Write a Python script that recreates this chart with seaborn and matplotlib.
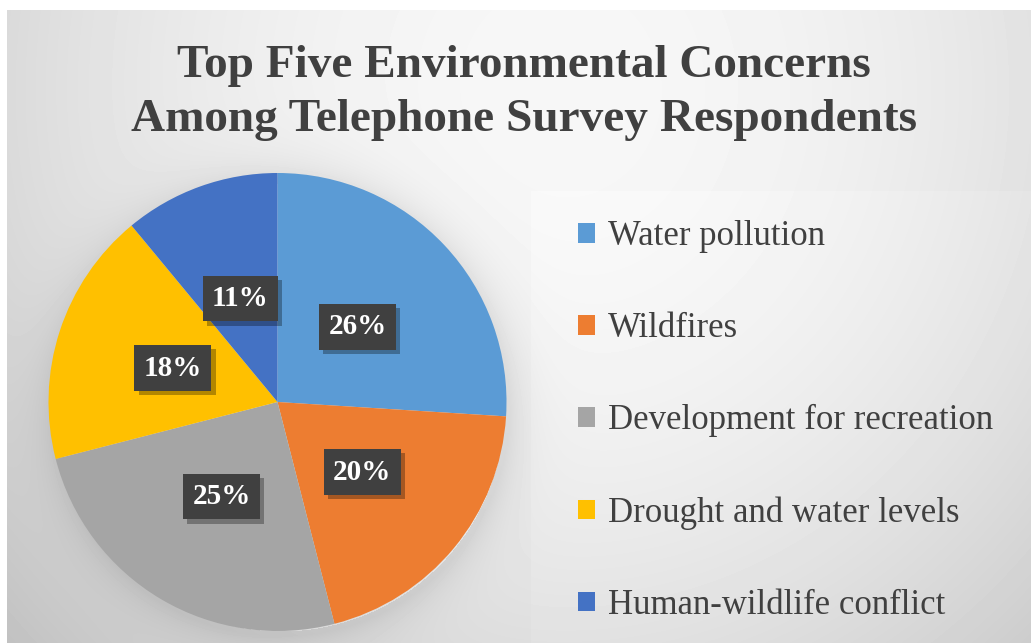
import numpy as np
import matplotlib
matplotlib.use("Agg")
import matplotlib.pyplot as plt
import matplotlib.patheffects as pe
from matplotlib.patches import Patch
import seaborn as sns

categories = ["Water pollution", "Wildfires", "Development for recreation",
              "Drought and water levels", "Human-wildlife conflict"]
values = [26, 20, 25, 18, 11]
labels = ["26%", "20%", "25%", "18%", "11%"]
colors = ["#5B9BD5", "#ED7D31", "#A5A5A5", "#FFC000", "#4472C4"]
title = "Top Five Environmental Concerns\nAmong Telephone Survey Respondents"

sns.set_theme(style="white")
plt.rcParams["font.family"] = ["Liberation Serif", "DejaVu Serif"]

W, H = 1031, 643
fig = plt.figure(figsize=(W / 100, H / 100), dpi=100)
fig.patch.set_facecolor("white")

# background gradient
bx0, by0 = 7, 10
bw, bh = W - bx0, H - by0
yy, xx = np.mgrid[0:bh, 0:bw]
xx = xx + bx0
yy = yy + by0
r2 = ((xx - 560) / 700.0) ** 2 + ((yy - 90) / 750.0) ** 2
val = 247 - 46 * r2
# slightly lighter plot/legend area
val = val + 3 * ((xx > 530) & (yy > 190))
cx, cy, R = 277.5, 402, 229
d = np.sqrt((xx - cx - 3) ** 2 + (yy - cy - 5) ** 2) - R
val = val - 20 * np.exp(-np.clip(d, 0, None) / 20.0) * (d > -5)
img = np.clip(val, 0, 255) / 255.0
bg = fig.add_axes([bx0 / W, 0, bw / W, bh / H])
bg.imshow(img, cmap="gray", vmin=0, vmax=1, aspect="auto", interpolation="bilinear")
bg.axis("off")

# pie
ax = fig.add_axes([(cx - R) / W, (H - cy - R) / H, 2 * R / W, 2 * R / H])
wedges, texts = ax.pie(values, colors=colors, startangle=90, counterclock=False,
                       labels=labels, labeldistance=0.48, radius=1.0,
                       wedgeprops=dict(linewidth=0))
ax.set_xlim(-1, 1)
ax.set_ylim(-1, 1)
ax.set_aspect("equal")
ax.axis("off")
for t in texts:
    t.set_ha("center")
    t.set_va("center")
    t.set_color("white")
    t.set_fontsize(21)
    t.set_fontweight("bold")
    t.set_bbox(dict(boxstyle="square,pad=0.32", fc="#404040", ec="none"))
    t.get_bbox_patch().set_path_effects(
        [pe.SimplePatchShadow(offset=(3, -3), shadow_rgbFace="black", alpha=0.3), pe.Normal()])

# title
fig.text(0.508, 1 - 93 / H, title, ha="center", va="center", fontsize=34,
         fontweight="bold", color="#404040", linespacing=1.36)

# legend
handles = [Patch(facecolor=c, edgecolor="none") for c in colors]
leg = fig.legend(handles, categories, loc="center left",
                 bbox_to_anchor=(578 / W, 1 - 421 / H), frameon=False,
                 fontsize=25, labelspacing=1.7, handlelength=0.5,
                 handleheight=0.5, handletextpad=0.35,
                 borderaxespad=0, borderpad=0)
for t in leg.get_texts():
    t.set_color("#404040")

fig.savefig("out.png", dpi=100)
